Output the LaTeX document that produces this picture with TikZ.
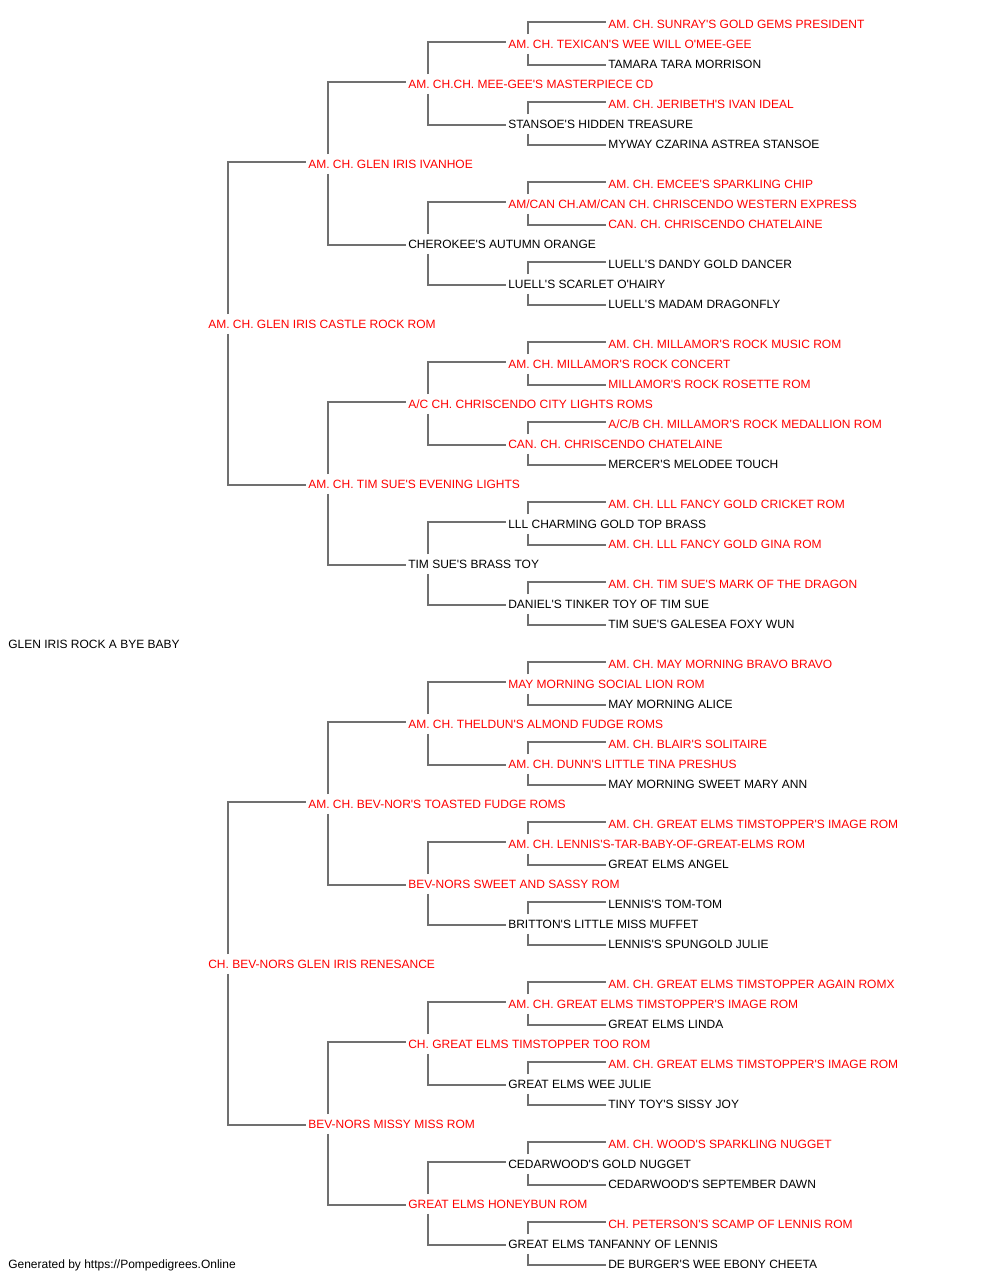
\documentclass[tikz,border=0pt]{standalone}
\usepackage{fontspec}
\newfontfamily\pedfont{Liberation Sans}
\usetikzlibrary{calc}
\definecolor{linkgray}{RGB}{112,112,112}

\begin{document}
\begin{tikzpicture}[x=0.75pt, y=-0.75pt,
    dog/.style={anchor=west, inner xsep=1.5pt, inner ysep=3.9pt,
      text height=6.5pt, text depth=0pt,
      font=\pedfont\fontsize{9}{11}\selectfont, text=black},
    champ/.style={dog, text=red},
    link/.style={draw=linkgray, line width=0.9pt}]
    \fill[white] (0,0) rectangle (1000,1280);
    \useasboundingbox (0,0) rectangle (1000,1280);
    % generation 0 and 1
    \node [dog]   (p) at (6,644)   {GLEN IRIS ROCK A BYE BABY};
    \node [champ] (s) at (206,324) {AM. CH. GLEN IRIS CASTLE ROCK ROM};
    \node [champ] (d) at (206,964) {CH. BEV-NORS GLEN IRIS RENESANCE};
    % generation 2
    \node [champ] (ss) at (306,164)  {AM. CH. GLEN IRIS IVANHOE};
    \node [champ] (sd) at (306,484)  {AM. CH. TIM SUE'S EVENING LIGHTS};
    \node [champ] (ds) at (306,804)  {AM. CH. BEV-NOR'S TOASTED FUDGE ROMS};
    \node [champ] (dd) at (306,1124) {BEV-NORS MISSY MISS ROM};
    % generation 3
    \node [champ] (sss) at (406,84)   {AM. CH.CH. MEE-GEE'S MASTERPIECE CD};
    \node [dog]   (ssd) at (406,244)  {CHEROKEE'S AUTUMN ORANGE};
    \node [champ] (sds) at (406,404)  {A/C CH. CHRISCENDO CITY LIGHTS ROMS};
    \node [dog]   (sdd) at (406,564)  {TIM SUE'S BRASS TOY};
    \node [champ] (dss) at (406,724)  {AM. CH. THELDUN'S ALMOND FUDGE ROMS};
    \node [champ] (dsd) at (406,884)  {BEV-NORS SWEET AND SASSY ROM};
    \node [champ] (dds) at (406,1044) {CH. GREAT ELMS TIMSTOPPER TOO ROM};
    \node [champ] (ddd) at (406,1204) {GREAT ELMS HONEYBUN ROM};
    % generation 4
    \node [champ] (ssss) at (506,44)   {AM. CH. TEXICAN'S WEE WILL O'MEE-GEE};
    \node [dog]   (sssd) at (506,124)  {STANSOE'S HIDDEN TREASURE};
    \node [champ] (ssds) at (506,204)  {AM/CAN CH.AM/CAN CH. CHRISCENDO WESTERN EXPRESS};
    \node [dog]   (ssdd) at (506,284)  {LUELL'S SCARLET O'HAIRY};
    \node [champ] (sdss) at (506,364)  {AM. CH. MILLAMOR'S ROCK CONCERT};
    \node [champ] (sdsd) at (506,444)  {CAN. CH. CHRISCENDO CHATELAINE};
    \node [dog]   (sdds) at (506,524)  {LLL CHARMING GOLD TOP BRASS};
    \node [dog]   (sddd) at (506,604)  {DANIEL'S TINKER TOY OF TIM SUE};
    \node [champ] (dsss) at (506,684)  {MAY MORNING SOCIAL LION ROM};
    \node [champ] (dssd) at (506,764)  {AM. CH. DUNN'S LITTLE TINA PRESHUS};
    \node [champ] (dsds) at (506,844)  {AM. CH. LENNIS'S-TAR-BABY-OF-GREAT-ELMS ROM};
    \node [dog]   (dsdd) at (506,924)  {BRITTON'S LITTLE MISS MUFFET};
    \node [champ] (ddss) at (506,1004) {AM. CH. GREAT ELMS TIMSTOPPER'S IMAGE ROM};
    \node [dog]   (ddsd) at (506,1084) {GREAT ELMS WEE JULIE};
    \node [dog]   (ddds) at (506,1164) {CEDARWOOD'S GOLD NUGGET};
    \node [dog]   (dddd) at (506,1244) {GREAT ELMS TANFANNY OF LENNIS};
    % generation 5
    \node [champ] (sssss) at (606,24)   {AM. CH. SUNRAY'S GOLD GEMS PRESIDENT};
    \node [dog]   (ssssd) at (606,64)   {TAMARA TARA MORRISON};
    \node [champ] (sssds) at (606,104)  {AM. CH. JERIBETH'S IVAN IDEAL};
    \node [dog]   (sssdd) at (606,144)  {MYWAY CZARINA ASTREA STANSOE};
    \node [champ] (ssdss) at (606,184)  {AM. CH. EMCEE'S SPARKLING CHIP};
    \node [champ] (ssdsd) at (606,224)  {CAN. CH. CHRISCENDO CHATELAINE};
    \node [dog]   (ssdds) at (606,264)  {LUELL'S DANDY GOLD DANCER};
    \node [dog]   (ssddd) at (606,304)  {LUELL'S MADAM DRAGONFLY};
    \node [champ] (sdsss) at (606,344)  {AM. CH. MILLAMOR'S ROCK MUSIC ROM};
    \node [champ] (sdssd) at (606,384)  {MILLAMOR'S ROCK ROSETTE ROM};
    \node [champ] (sdsds) at (606,424)  {A/C/B CH. MILLAMOR'S ROCK MEDALLION ROM};
    \node [dog]   (sdsdd) at (606,464)  {MERCER'S MELODEE TOUCH};
    \node [champ] (sddss) at (606,504)  {AM. CH. LLL FANCY GOLD CRICKET ROM};
    \node [champ] (sddsd) at (606,544)  {AM. CH. LLL FANCY GOLD GINA ROM};
    \node [champ] (sddds) at (606,584)  {AM. CH. TIM SUE'S MARK OF THE DRAGON};
    \node [dog]   (sdddd) at (606,624)  {TIM SUE'S GALESEA FOXY WUN};
    \node [champ] (dssss) at (606,664)  {AM. CH. MAY MORNING BRAVO BRAVO};
    \node [dog]   (dsssd) at (606,704)  {MAY MORNING ALICE};
    \node [champ] (dssds) at (606,744)  {AM. CH. BLAIR'S SOLITAIRE};
    \node [dog]   (dssdd) at (606,784)  {MAY MORNING SWEET MARY ANN};
    \node [champ] (dsdss) at (606,824)  {AM. CH. GREAT ELMS TIMSTOPPER'S IMAGE ROM};
    \node [dog]   (dsdsd) at (606,864)  {GREAT ELMS ANGEL};
    \node [dog]   (dsdds) at (606,904)  {LENNIS'S TOM-TOM};
    \node [dog]   (dsddd) at (606,944)  {LENNIS'S SPUNGOLD JULIE};
    \node [champ] (ddsss) at (606,984)  {AM. CH. GREAT ELMS TIMSTOPPER AGAIN ROMX};
    \node [dog]   (ddssd) at (606,1024) {GREAT ELMS LINDA};
    \node [champ] (ddsds) at (606,1064) {AM. CH. GREAT ELMS TIMSTOPPER'S IMAGE ROM};
    \node [dog]   (ddsdd) at (606,1104) {TINY TOY'S SISSY JOY};
    \node [champ] (dddss) at (606,1144) {AM. CH. WOOD'S SPARKLING NUGGET};
    \node [dog]   (dddsd) at (606,1184) {CEDARWOOD'S SEPTEMBER DAWN};
    \node [champ] (dddds) at (606,1224) {CH. PETERSON'S SCAMP OF LENNIS ROM};
    \node [dog]   (ddddd) at (606,1264) {DE BURGER'S WEE EBONY CHEETA};
    % footer
    \node [dog]   (credit) at (6,1264) {Generated by https://Pompedigrees.Online};
    % sire and dam brackets
    \foreach \n in {s,d,ss,sd,ds,dd,sss,ssd,sds,sdd,dss,dsd,dds,ddd,
        ssss,sssd,ssds,ssdd,sdss,sdsd,sdds,sddd,
        dsss,dssd,dsds,dsdd,ddss,ddsd,ddds,dddd}{
      \draw[link] ($(\n.north west)+(22,0)$) |- ($(\n s.west)+(0,-2)$);
      \draw[link] ($(\n.south west)+(22,0)$) |- ($(\n d.west)+(0,1)$);
    }
\end{tikzpicture}
\end{document}
